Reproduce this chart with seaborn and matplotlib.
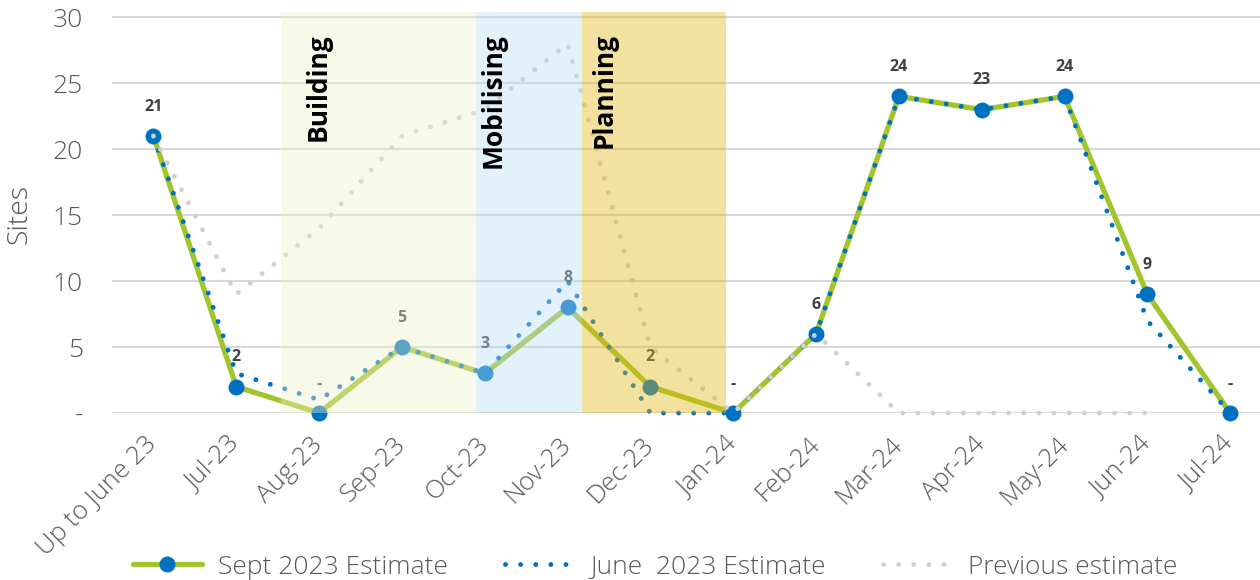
import numpy as np
import pandas as pd
import matplotlib
matplotlib.use('Agg')
import matplotlib.pyplot as plt
import seaborn as sns

# Data
months = ['Up to June 23', 'Jul-23', 'Aug-23', 'Sep-23', 'Oct-23', 'Nov-23', 'Dec-23',
          'Jan-24', 'Feb-24', 'Mar-24', 'Apr-24', 'May-24', 'Jun-24', 'Jul-24']
sept_2023 = [21, 2, 0, 5, 3, 8, 2, 0, 6, 24, 23, 24, 9, 0]
june_2023 = [21, 3, 1, 5, 3, 10, 0, 0, 6, 24, 23, 24, 7, 0]
previous = [21, 9, 14, 21, 23, 28, 5, 0, 6, 0, 0, 0, 0, np.nan]
y_ticks = [0, 5, 10, 15, 20, 25, 30]
y_tick_labels = ['-', '5', '10', '15', '20', '25', '30']

# phase bands (start, end, label, colour, label x) in category units
phases = [(1.545, 3.89, 'Building', '#ebf0ca', 1.99),
          (3.89, 5.17, 'Mobilising', '#b9dcf7', 4.10),
          (5.17, 6.91, 'Planning', '#e1b412', 5.44)]

GREEN = '#a2c42c'
BLUE = '#0070c0'
GREY = '#d0d0d0'
TEXT = '#595959'

sns.set_style('white')
plt.rcParams['font.family'] = ['Open Sans', 'DejaVu Sans']

df = pd.DataFrame({'pos': np.arange(len(months)), 'month': months,
                   'sept': sept_2023, 'june': june_2023, 'prev': previous})

fig = plt.figure(figsize=(12.6, 5.8), dpi=100)
ax = fig.add_axes([112 / 1260, 167 / 580, 1148 / 1260, 401 / 580])

# grid
for y in y_ticks:
    ax.axhline(y, color='#d9d9d9', lw=1.5, zorder=0)

sns.lineplot(data=df, x='pos', y='sept', ax=ax, color=GREEN, lw=3.8, marker='o',
             markersize=11.5, markerfacecolor=BLUE, markeredgecolor=BLUE,
             markeredgewidth=0, estimator=None, label='Sept 2023 Estimate',
             zorder=2, clip_on=False)
sns.lineplot(data=df, x='pos', y='june', ax=ax, color=BLUE, lw=3.5,
             linestyle=(0, (0.01, 3.1)), dash_capstyle='round', estimator=None,
             label='June  2023 Estimate', zorder=3, clip_on=False)
sns.lineplot(data=df.dropna(), x='pos', y='prev', ax=ax, color=GREY, lw=3.5,
             linestyle=(0, (0.01, 3.1)), dash_capstyle='round', estimator=None,
             label='Previous estimate', zorder=4, clip_on=False)

# data labels
for i, v in enumerate(sept_2023):
    ax.annotate('-' if v == 0 else str(v), (i, v), xytext=(0, 21),
                textcoords='offset points', ha='center', va='center',
                fontsize=11.5, fontweight='bold', color='#404040', zorder=4)

# phase bands drawn on top with transparency
for x0, x1, name, col, xt in phases:
    ax.axvspan(x0, x1, color=col, alpha=0.4, lw=0, zorder=5)
    ax.text(xt, 28.8, name, rotation=90, ha='center', va='top', fontsize=19,
            fontweight='bold', color='black', zorder=6)

ax.set_xlim(-0.5, 13.36)
ax.set_ylim(0, 30.4)
ax.set_yticks(y_ticks)
ax.set_yticklabels(y_tick_labels, fontsize=19, color=TEXT, fontweight='light')
ax.set_xticks(df['pos'])
ax.set_xticklabels(months, rotation=45, ha='right', va='center',
                   rotation_mode='anchor', fontsize=18.5, color=TEXT,
                   fontweight='light')
ax.tick_params(axis='y', length=0, pad=21)
ax.tick_params(axis='x', length=0, pad=20)
ax.set_xlabel('')
ax.set_ylabel('')
for s in ax.spines.values():
    s.set_visible(False)

fig.text(20 / 1260, 1 - 214 / 580, 'Sites', rotation=90, ha='center', va='center',
         fontsize=20.5, color=TEXT, fontweight='light')

handles, labels = ax.get_legend_handles_labels()
ax.get_legend().remove()
fig.legend(handles, labels, loc='center', bbox_to_anchor=(0.52, 13 / 580), ncol=3,
           frameon=False, labelcolor=TEXT, handlelength=2.6,
           handletextpad=0.6, columnspacing=2.2,
           prop={'weight': 'light', 'size': 19})

fig.savefig('out.png', dpi=100)
